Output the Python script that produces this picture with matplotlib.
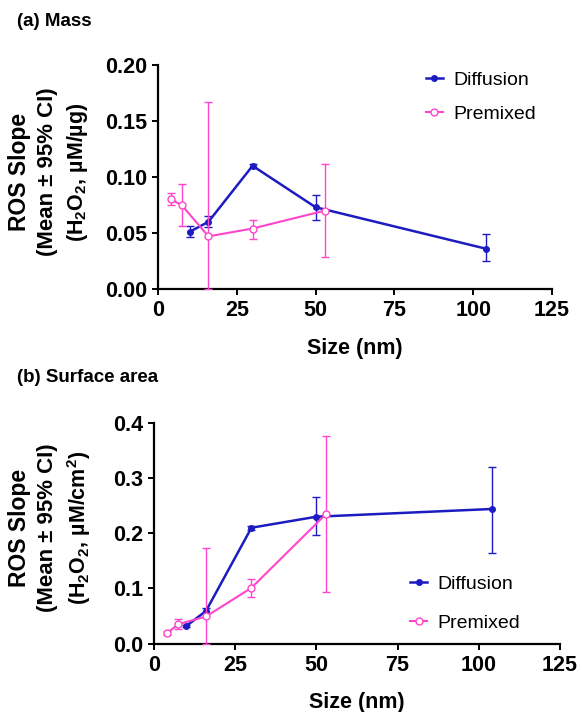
import matplotlib
matplotlib.use("Agg")
import matplotlib.pyplot as plt
from matplotlib.lines import Line2D

plt.rcParams['font.family'] = ['Liberation Sans', 'DejaVu Sans']
plt.rcParams['mathtext.fontset'] = 'custom'
plt.rcParams['mathtext.rm'] = 'Liberation Sans:bold'
plt.rcParams['mathtext.bf'] = 'Liberation Sans:bold'
plt.rcParams['mathtext.it'] = 'Liberation Sans:bold'

# --- (a) mass-normalised ROS slope ---
mass_diff_size = [10, 16, 30, 50, 104]
mass_diff_mean = [0.051, 0.060, 0.110, 0.073, 0.036]
mass_diff_lo = [0.046, 0.055, 0.108, 0.062, 0.025]
mass_diff_hi = [0.056, 0.065, 0.112, 0.084, 0.049]

mass_pre_size = [4, 7.5, 16, 30, 53]
mass_pre_mean = [0.080, 0.075, 0.047, 0.054, 0.070]
mass_pre_lo = [0.075, 0.056, 0.000, 0.045, 0.029]
mass_pre_hi = [0.086, 0.094, 0.167, 0.062, 0.112]

# --- (b) surface-area-normalised ROS slope ---
area_diff_size = [10, 16, 30, 50, 104]
area_diff_mean = [0.032, 0.059, 0.210, 0.230, 0.244]
area_diff_lo = [0.030, 0.055, 0.206, 0.196, 0.165]
area_diff_hi = [0.034, 0.064, 0.213, 0.265, 0.321]

area_pre_size = [4, 7.5, 16, 30, 53]
area_pre_mean = [0.019, 0.035, 0.049, 0.101, 0.235]
area_pre_lo = [0.016, 0.026, 0.000, 0.085, 0.094]
area_pre_hi = [0.022, 0.044, 0.174, 0.117, 0.377]

x_ticks = [0, 25, 50, 75, 100, 125]

blue = '#1c1cc0'
pink = '#ff45cc'

W, H = 582, 712
fig = plt.figure(figsize=(W / 100, H / 100), dpi=100)


def errs(mean, lo, hi):
    return [[m - l for m, l in zip(mean, lo)], [h - m for m, h in zip(mean, hi)]]


# legend entries show only line + marker, no error bar
legend_handles = [
    Line2D([], [], color=blue, lw=1.8, marker='o', ms=4, mfc=blue, mec=blue),
    Line2D([], [], color=pink, lw=1.5, marker='o', ms=5, mfc='white', mec=pink),
]
legend_labels = ['Diffusion', 'Premixed']


def draw_panel(ax, d_x, d_y, d_lo, d_hi, p_x, p_y, p_lo, p_hi):
    ax.errorbar(d_x, d_y, yerr=errs(d_y, d_lo, d_hi), color=blue, ecolor=blue,
                lw=1.8, elinewidth=1.0, capsize=3, capthick=1.0,
                marker='o', ms=4, mfc=blue, mec=blue, zorder=3)
    ax.errorbar(p_x, p_y, yerr=errs(p_y, p_lo, p_hi), color=pink, ecolor=pink,
                lw=1.5, elinewidth=1.0, capsize=3, capthick=1.0,
                marker='o', ms=5, mfc='white', mec=pink, mew=1.0, zorder=4)
    for s in ['top', 'right']:
        ax.spines[s].set_visible(False)
    for s in ['left', 'bottom']:
        ax.spines[s].set_linewidth(1.6)
    ax.tick_params(direction='out', length=4, width=1.4, labelsize=15.5, pad=4)
    ax.set_xlim(0, 125)
    ax.set_xticks(x_ticks)
    ax.set_xticklabels([str(t) for t in x_ticks], fontweight='bold')
    ax.set_xlabel('Size (nm)', fontsize=15.5, fontweight='bold', labelpad=12)


def ylabel_lines(x_px, y_px, lines):
    for xp, txt, fs in zip(x_px, lines, [16.5, 16, 15.5]):
        fig.text(xp / W, 1 - y_px / H, txt, rotation=90, ha='center', va='center',
                 fontsize=fs, fontweight='bold')


# Panel (a)
ax1 = fig.add_axes([158 / W, 1 - 289 / H, 394 / W, 224 / H])
draw_panel(ax1, mass_diff_size, mass_diff_mean, mass_diff_lo, mass_diff_hi,
           mass_pre_size, mass_pre_mean, mass_pre_lo, mass_pre_hi)
ax1.set_ylim(0, 0.20)
ax1.set_yticks([0.00, 0.05, 0.10, 0.15, 0.20])
ax1.set_yticklabels(['0.00', '0.05', '0.10', '0.15', '0.20'], fontweight='bold')
ax1.legend(legend_handles, legend_labels, loc='upper left',
           bbox_to_anchor=(0.635, 1.05), frameon=False, fontsize=14,
           handlelength=0.9, handletextpad=0.5, labelspacing=0.85)
fig.text(17 / W, 1 - 22 / H, '(a) Mass', fontsize=13.5, fontweight='bold',
         ha='left', va='center')
ylabel_lines([20, 48, 77], 172,
             ['ROS Slope', '(Mean \u00b1 95% CI)', '(H$_2$O$_2$, \u00b5M/\u00b5g)'])

# Panel (b)
ax2 = fig.add_axes([154 / W, 1 - 643.5 / H, 406 / W, 220.5 / H])
draw_panel(ax2, area_diff_size, area_diff_mean, area_diff_lo, area_diff_hi,
           area_pre_size, area_pre_mean, area_pre_lo, area_pre_hi)
ax2.set_ylim(0, 0.4)
ax2.set_yticks([0.0, 0.1, 0.2, 0.3, 0.4])
ax2.set_yticklabels(['0.0', '0.1', '0.2', '0.3', '0.4'], fontweight='bold')
ax2.legend(legend_handles, legend_labels, loc='upper left',
           bbox_to_anchor=(0.587, 0.39), frameon=False, fontsize=14,
           handlelength=0.9, handletextpad=0.5, labelspacing=1.1)
fig.text(17 / W, 1 - 377 / H, '(b) Surface area', fontsize=13.5, fontweight='bold',
         ha='left', va='center')
ylabel_lines([20, 48, 79], 528,
             ['ROS Slope', '(Mean \u00b1 95% CI)', '(H$_2$O$_2$, \u00b5M/cm$^2$)'])

fig.savefig('out.png', dpi=100)
